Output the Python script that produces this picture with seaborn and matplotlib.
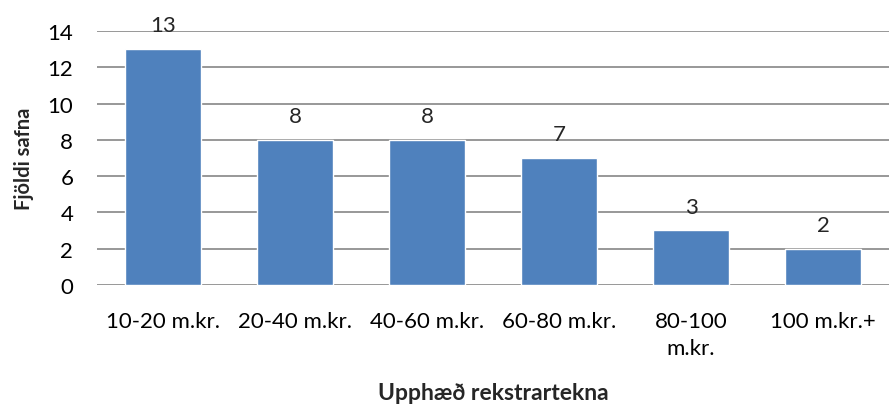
import matplotlib
matplotlib.use("Agg")
import matplotlib.pyplot as plt
import seaborn as sns
import pandas as pd

# data
categories = ["10-20 m.kr.", "20-40 m.kr.", "40-60 m.kr.", "60-80 m.kr.", "80-100\nm.kr.", "100 m.kr.+"]
counts = [13, 8, 8, 7, 3, 2]

df = pd.DataFrame({"cat": categories, "n": counts})

sns.set_style("white")
plt.rcParams['font.family'] = ['Lato', 'DejaVu Sans']

fig = plt.figure(figsize=(8.89, 4.06), dpi=100)
ax = fig.add_axes([0.109, 0.296, 0.891, 0.625])

sns.barplot(data=df, x="cat", y="n", color="#4F81BD", saturation=1, width=0.57, ax=ax, zorder=3)

ax.set_ylim(0, 14)
ax.set_yticks(range(0, 15, 2))
ax.yaxis.grid(True, color="#868686", linewidth=1.2, zorder=0)
ax.set_axisbelow(True)
for s in ["top", "right", "left", "bottom"]:
    ax.spines[s].set_visible(False)
ax.tick_params(axis="both", length=0, labelsize=16, colors="black")
ax.tick_params(axis="x", pad=19)
ax.tick_params(axis="y", pad=17)
for t in ax.get_xticklabels():
    t.set_linespacing(1.45)

ax.bar_label(ax.containers[0], padding=10, fontsize=16)

ax.set_xlabel("Upphæð rekstrartekna", fontsize=16.5, fontweight="bold", labelpad=17)
ax.set_ylabel("Fjöldi safna", fontsize=14.5, fontweight="bold", labelpad=10)

fig.savefig("out.png", dpi=100)
